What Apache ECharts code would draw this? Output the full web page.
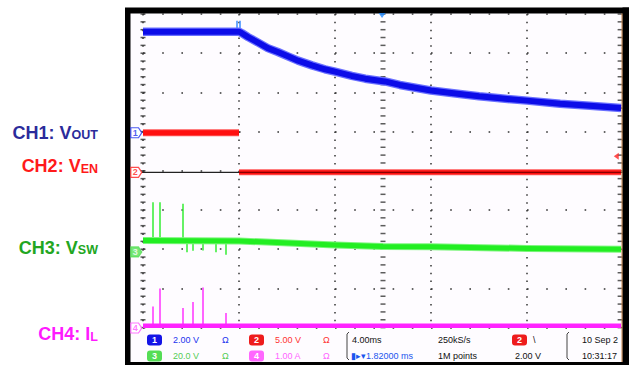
<!DOCTYPE html>
<html><head><meta charset="utf-8">
<script src="https://cdn.jsdelivr.net/npm/echarts@6/dist/echarts.min.js"></script>
<style>html,body{margin:0;padding:0;background:#fff}#c{width:631px;height:365px}</style>
</head><body><div id="c"></div>
<script>
// ---- data (x in horizontal divisions 0..10, y in vertical divisions -4..4) ----
const ch1T = [0, 1, 2, 2.06, 2.19, 2.40, 2.60, 2.81, 3.02, 3.23, 3.52, 3.79, 4.00, 4.35, 4.63, 5.04, 5.35, 6.00, 6.60, 7.00, 7.44, 8.00, 8.69, 9.31, 9.96];
const ch1V = [3.55, 3.55, 3.55, 3.51, 3.41, 3.27, 3.13, 3.03, 2.92, 2.81, 2.69, 2.59, 2.53, 2.42, 2.35, 2.28, 2.19, 2.05, 1.96, 1.90, 1.85, 1.79, 1.71, 1.66, 1.60];
const ch1GlitchT = [1.95, 2.02];
const ch1GlitchTop = [3.83, 3.83];

const ch2HighT = [0, 2];
const ch2HighV = [0.97, 0.97];
const ch2LowT = [2, 9.96];
const ch2LowV = [-0.04, -0.04];

const ch3T = [0, 2, 4, 5, 6, 8, 9.96];
const ch3V = [-1.78, -1.79, -1.89, -1.93, -1.94, -1.98, -2.0];
const ch3SpikeUpT = [0.21, 0.35, 0.83];
const ch3SpikeUpV = [-0.80, -0.80, -0.84];
const ch3SpikeDnT = [0.92, 1.04, 1.25, 1.52, 1.73];
const ch3SpikeDnV = [-2.08, -2.04, -2.03, -2.08, -2.14];

const ch4T = [0, 9.96];
const ch4V = [-3.95, -3.95];
const ch4SpikeT = [0.21, 0.35, 0.83, 1.04, 1.25, 1.73];
const ch4SpikeV = [-3.46, -3.0, -3.50, -3.35, -2.98, -3.63];

const chNames = ['1', '2', '3', '4'];
const chGround = [0.97, -0.04, -2.07, -4.01];
const trigPosX = 4.98;
const trigLevel = 0.37;

// ---- helpers ----
const zip = (a, b) => a.map((v, i) => [v, b[i]]);
const baseAt = (T, V, x) => {
  for (let i = 0; i < T.length - 1; i++) {
    if (x >= T[i] && x <= T[i + 1]) return V[i] + (V[i + 1] - V[i]) * (x - T[i]) / (T[i + 1] - T[i]);
  }
  return V[V.length - 1];
};
const spikes = (T, V, BT, BV) => T.map((x, i) => ({coords: [[x, baseAt(BT, BV, x)], [x, V[i]]]}));

// graticule tick dashes on left, centre and right verticals (every 0.2 div)
const gratTicks = [];
[0, 5, 9.94].forEach(x => { for (let k = -20; k <= 20; k++) gratTicks.push([x, k / 5]); });

const chart = echarts.init(document.getElementById('c'), null, {renderer: 'svg'});
const lineS = (data, color, width, z) => ({type: 'line', data, symbol: 'none', silent: true, clip: false, z: z || 3,
  lineStyle: {color, width, cap: 'butt', join: 'round'}, animation: false});
const lines = (data, color, width) => ({type: 'lines', coordinateSystem: 'cartesian2d', polyline: false, data, silent: true, z: 3,
  lineStyle: {color, width, opacity: 1, curveness: 0}, effect: {show: false}, animation: false});

const markerPath = 'path://M0,0 L7,0 L10,5 L7,10 L0,10 Z';
const markerStyles = [
  {fill: '#ffffff', stroke: '#2233ee', text: '#2233ee'},
  {fill: '#ffffff', stroke: '#ff2222', text: '#ff2222'},
  {fill: '#55e055', stroke: '#55e055', text: '#ffffff'},
  {fill: '#ffffff', stroke: '#ff55ff', text: '#ff55ff'}
];

const FONT = '"Liberation Sans", Arial, sans-serif';
const st = (x, y, text, color, align) => ({type: 'text', x, y, z: 50, silent: true,
  style: {text, fill: color, font: '9px ' + FONT, textAlign: align || 'left', textVerticalAlign: 'middle'}});
const badge = (x, y, txt, color) => ({type: 'group', x, y, z: 50, children: [
  {type: 'rect', shape: {x: 0, y: -5.5, width: 15, height: 11, r: 3}, style: {fill: color}},
  {type: 'text', x: 7.5, y: 0, style: {text: txt, fill: '#fff', font: 'bold 9px ' + FONT, textAlign: 'center', textVerticalAlign: 'middle'}}
]});
const label = (y, main, sub, color) => ({type: 'text', x: 98, y, z: 50, silent: true,
  style: {text: '{a|' + main + '}{b|' + sub + '}', textAlign: 'right', textVerticalAlign: 'middle',
    rich: {a: {fill: color, color, fontSize: 18, fontWeight: 'bold', fontFamily: FONT, verticalAlign: 'bottom', lineHeight: 20},
           b: {fill: color, color, fontSize: 12.5, fontWeight: 'bold', fontFamily: FONT, verticalAlign: 'bottom', lineHeight: 20}}}});

const option = {
  animation: false,
  backgroundColor: '#ffffff',
  grid: {left: 143, top: 14, width: 480, height: 313.6, show: false},
  xAxis: {type: 'value', min: 0, max: 10, interval: 2, axisLine: {show: false}, axisTick: {show: false}, axisLabel: {show: false},
    splitLine: {show: true, lineStyle: {color: '#333', width: 1.5, type: [1.5, 6.34]}}},
  yAxis: {type: 'value', min: -4, max: 4, interval: 1, axisLine: {show: false}, axisTick: {show: false}, axisLabel: {show: false},
    splitLine: {show: true, lineStyle: {color: '#333', width: 1.6, type: [1.6, 17.6]}}},
  graphic: [
    {type: 'rect', z: -100, shape: {x: 125, y: 7.5, width: 504, height: 358}, style: {fill: '#000'}},
    {type: 'rect', z: -99, shape: {x: 130.5, y: 13.5, width: 492, height: 348.5}, style: {fill: '#fefcff'}},
    {type: 'rect', z: 40, shape: {x: 622.5, y: 7.5, width: 6.5, height: 358}, style: {fill: '#000'}},
    {type: 'line', z: 41, shape: {x1: 622, y1: 13.5, x2: 622, y2: 362}, style: {stroke: '#c8844a', lineWidth: 1}},
    label(131.5, 'CH1: V', 'OUT', '#2b2b9b'),
    label(165, 'CH2: V', 'EN', '#ff1a1a'),
    label(246.5, 'CH3: V', 'SW', '#22a622'),
    label(333, 'CH4: I', 'L', '#ff1aff'),
    badge(147, 340, '1', '#1414e6'),
    st(173, 340, '2.00 V', '#2233ee'), st(222, 340, 'Ω', '#2233ee'),
    badge(249, 340, '2', '#ee1c1c'),
    st(275, 340, '5.00 V', '#ff3333'), st(323, 340, 'Ω', '#ff3333'),
    st(352, 340, '4.00ms', '#111'),
    st(438, 340, '250kS/s', '#111'),
    badge(512, 340, '2', '#ee1c1c'),
    st(533, 340, '\\', '#111'),
    st(582, 340, '10 Sep 2', '#111'),
    badge(147, 356, '3', '#55dd55'),
    st(173, 356, '20.0 V', '#55cc55'), st(222, 356, 'Ω', '#55cc55'),
    badge(249, 356, '4', '#ff66ff'),
    st(275, 356, '1.00 A', '#ff66ff'), st(323, 356, 'Ω', '#ff66ff'),
    st(351, 356, '▮▸▾1.82000 ms', '#1a55ee'),
    st(438, 356, '1M points', '#111'),
    st(515, 356, '2.00 V', '#111'),
    st(582, 356, '10:31:17', '#111'),
    {type: 'polyline', z: 45, shape: {points: [[349, 332], [347, 334], [347, 358], [349, 360]]}, style: {stroke: '#444', lineWidth: 1, fill: null}},
    {type: 'polyline', z: 45, shape: {points: [[569, 332], [567, 334], [567, 358], [569, 360]]}, style: {stroke: '#444', lineWidth: 1, fill: null}}
  ],
  series: [
    {type: 'scatter', data: gratTicks, symbol: 'rect', symbolSize: [5, 1.5], itemStyle: {color: '#333'}, silent: true, z: 1, clip: false, animation: false},
    lineS([[-0.1, chGround[1]], [10, chGround[1]]], '#222', 1.2, 2),
    lines(spikes(ch4SpikeT, ch4SpikeV, ch4T, ch4V), '#ff33ff', 1.5),
    lineS(zip(ch4T, ch4V), '#ff22ff', 4.5),
    lines(spikes(ch3SpikeUpT, ch3SpikeUpV, ch3T, ch3V), '#33ee33', 1.5),
    lines(spikes(ch3SpikeDnT, ch3SpikeDnV, ch3T, ch3V), '#33ee33', 1.5),
    lineS(zip(ch3T, ch3V), '#7cf57c', 7),
    lineS(zip(ch3T, ch3V), '#22ee22', 5),
    lineS(zip(ch2HighT, ch2HighV), '#ff5555', 7),
    lineS(zip(ch2HighT, ch2HighV), '#ff1010', 5),
    lineS(zip(ch2LowT, ch2LowV), '#ff5555', 6),
    lineS(zip(ch2LowT, ch2LowV), '#ff1010', 4),
    lineS(zip(ch2LowT, ch2LowV), '#8a0000', 1.2),
    lines(spikes(ch1GlitchT, ch1GlitchTop, ch1T, ch1V), '#3a8cff', 1.5),
    lineS(zip(ch1T, ch1V), '#6a70ff', 8.5),
    lineS(zip(ch1T, ch1V), '#0c0ce8', 6),
    {type: 'scatter', clip: false, silent: true, z: 10, animation: false,
      data: chNames.map((n, i) => ({value: [-0.14, chGround[i]], itemStyle: {color: markerStyles[i].fill, borderColor: markerStyles[i].stroke, borderWidth: 1.2},
        label: {show: true, formatter: n, color: markerStyles[i].text, fontSize: 9, fontWeight: 'bold', fontFamily: FONT, offset: [-1, 0]}})),
      symbol: markerPath, symbolSize: [11, 10],
      label: {position: 'inside'}},
    {type: 'scatter', clip: false, silent: true, z: 10, animation: false, data: [[trigPosX, 3.96]], symbol: 'triangle', symbolRotate: 180, symbolSize: [7, 5], itemStyle: {color: '#1e88ff'}},
    {type: 'scatter', clip: false, silent: true, z: 10, animation: false, data: [[9.86, trigLevel]], symbol: 'triangle', symbolRotate: 90, symbolSize: [7, 5], itemStyle: {color: '#ff2222'}}
  ]
};
chart.setOption(option);
</script></body></html>
